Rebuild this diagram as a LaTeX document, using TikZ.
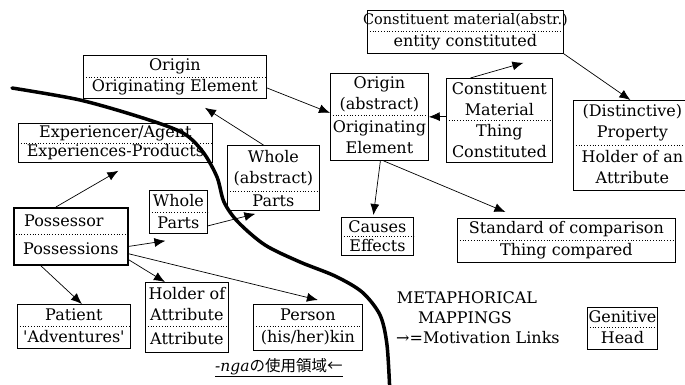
\documentclass[tikz,border=0pt]{standalone}
\usepackage{fontspec}
\setmainfont{DejaVu Serif}[Ligatures=TeXOff]
\newfontfamily\jpfont{Noto Sans CJK JP}
\usetikzlibrary{arrows.meta,calc}

\tikzset{
  mbox/.style={draw, line width=0.8pt, inner sep=0pt},
  mtext/.style={inner sep=0pt, align=center, font=\fontsize{16}{21}\selectfont},
  divline/.style={dotted, line width=0.8pt},
  link/.style={-{Latex[length=11pt,width=9pt]}, line width=0.7pt},
}

% #1 box options, #2 name, #3 x, #4 y, #5 width, #6 height, #7 split, #8 upper, #9 lower
\newcommand\mapbox[9][]{%
  \node[mbox, #1, minimum width=#5pt, minimum height=#6pt, anchor=north west] (#2) at (#3,#4) {};
  \draw[divline] ([yshift=-#7pt]#2.north west) -- ([yshift=-#7pt]#2.north east);
  \node[mtext] (#2-up) at ([yshift=-#7/2]#2.north) {#8};
  \node[mtext] (#2-lo) at ([yshift=-(#6+#7)/2]#2.north) {#9};
}

\begin{document}
\begin{tikzpicture}[x=1pt, y=-1pt]
    \clip (0,0) rectangle (685,385);

    % boundary of the -nga usage
    \draw[line width=3.5pt, line cap=round] plot[smooth] coordinates {(12,88) (80,100) (143,118) (183,133) (203,152) (217,177) (224,202) (238,222) (265,245) (300,262) (335,276) (362,292) (380,315) (387,345) (390,395)};

    \mapbox{orig}{83}{55}{183}{43}{22}{Origin}{Originating Element}
    \mapbox{constm}{367}{10}{196}{43}{21}{{\fontsize{14.5}{18}\selectfont Constituent material(abstr.)}}{entity constituted}
    \mapbox{origabs}{330}{73}{98}{87}{42}{Origin\\(abstract)}{Originating\\Element}
    \mapbox{constmat}{446}{78}{106}{84}{42}{Constituent\\Material}{Thing\\Constituted}
    \mapbox{prop}{573}{100}{118}{90}{45}{(Distinctive)\\Property}{Holder of an\\Attribute}
    \mapbox{exper}{18}{123}{194}{39}{20}{Experiencer/Agent}{Experiences-Products}
    \mapbox{wholeabs}{227}{145}{92}{65}{46}{Whole\\(abstract)}{Parts}
    \mapbox{whole}{149}{190}{58}{43}{22}{Whole}{Parts}
    \mapbox[line width=1.8pt]{poss}{13}{207}{114}{57}{27}{Possessor\hspace*{14pt}}{Possessions}
    \mapbox{causes}{341}{217}{72}{38}{19}{Causes}{Effects}
    \mapbox{stand}{457}{218}{218}{44}{22}{Standard of comparison}{Thing compared}
    \mapbox{patient}{17}{304}{113}{44}{22}{Patient}{'Adventures'}
    \mapbox{holder}{145}{282}{83}{70}{44}{Holder of\\Attribute}{Attribute}
    \mapbox{person}{253}{304}{109}{46}{22}{Person}{(his/her)kin}
    \mapbox{genitive}{587}{307}{70}{42}{20}{Genitive}{Head}

    \draw[link] ([yshift=-11pt]orig.east) -- ([yshift=4pt]origabs.west);
    \draw[link] ([xshift=-10pt]wholeabs.north) -- ([xshift=30pt, yshift=-9pt]orig.south);
    \draw[link] ([xshift=1pt]origabs.south) -- ([xshift=-4pt, yshift=2pt]causes.north);
    \draw[link] ([xshift=4pt]origabs.south) -- ([xshift=-61pt, yshift=6pt]stand.north);
    \draw[link] ([yshift=4pt]constmat.west) -- (origabs.east);
    \draw[link] ([xshift=-29pt]constmat.north) -- ([xshift=58pt, yshift=-9pt]constm.south);
    \draw[link] (constm.south east) -- ([xshift=-2pt]prop.north);
    \draw[link] ([xshift=-15pt]poss.north) -- ([xshift=3pt, yshift=-8pt]exper.south);
    \draw[link] ([yshift=-10pt]poss.east) -- ([xshift=-13pt, yshift=-7pt]whole.south);
    \draw[link] ([yshift=-14pt]whole.east) -- ([xshift=-18pt, yshift=-3pt]wholeabs.south);
    \draw[link] ([yshift=6pt]poss.south east) -- ([xshift=-22pt]holder.north);
    \draw[link] ([yshift=12pt]poss.south east) -- ([xshift=10pt, yshift=4pt]person.north);
    \draw[link] ([xshift=-30pt]poss.south) -- ([xshift=8pt]patient.north);

    \node[mtext] (meta) at (467,298) {METAPHORICAL};
    \node[mtext] (mapp) at (465,318) {MAPPINGS};
    \node[mtext, anchor=west] (legend) at (396,338) {→=Motivation Links};
    \node[mtext, anchor=west, font=\fontsize{15.5}{19}\selectfont] (usage) at (215,368) {\underline{\textit{-nga}{\jpfont の使用領域←}}};
\end{tikzpicture}
\end{document}
